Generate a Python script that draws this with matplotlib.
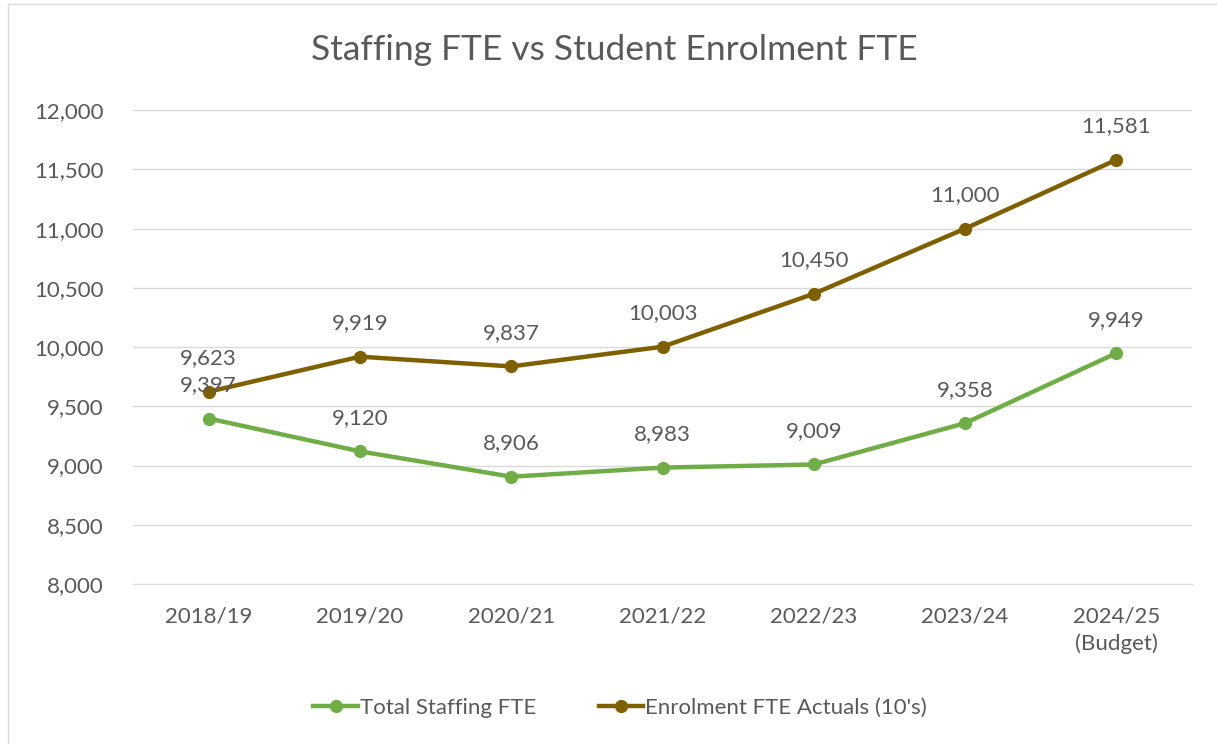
import matplotlib
matplotlib.use('Agg')
import matplotlib.pyplot as plt
from matplotlib.ticker import FuncFormatter
from matplotlib.patches import Rectangle

plt.rcParams['font.family'] = ['Lato', 'DejaVu Sans']

years = ['2018/19', '2019/20', '2020/21', '2021/22', '2022/23', '2023/24', '2024/25\n(Budget)']
staffing = [9397, 9120, 8906, 8983, 9009, 9358, 9949]
enrolment = [9623, 9919, 9837, 10003, 10450, 11000, 11581]

green = '#70AD47'
brown = '#7F6000'
txt = '#595959'

fig = plt.figure(figsize=(12.17, 7.44), dpi=100)
ax = fig.add_axes([0.1093, 0.215, 0.8702, 0.637])

x = list(range(len(years)))
ax.plot(x, staffing, color=green, lw=3.2, marker='o', ms=8.5, label='Total Staffing FTE', zorder=3)
ax.plot(x, enrolment, color=brown, lw=3.2, marker='o', ms=8.5, label="Enrolment FTE Actuals (10's)", zorder=3)

# data labels sit above each marker
for xi, v in zip(x, staffing):
    ax.annotate(f'{v:,}', (xi, v), xytext=(0, 24), textcoords='offset points',
                ha='center', va='center', fontsize=16, color=txt, zorder=4)
for xi, v in zip(x, enrolment):
    ax.annotate(f'{v:,}', (xi, v), xytext=(0, 24), textcoords='offset points',
                ha='center', va='center', fontsize=16, color=txt, zorder=4)

ax.set_xlim(-0.5, len(years) - 0.5)
ax.set_ylim(8000, 12000)
ax.set_yticks(range(8000, 12001, 500))
ax.yaxis.set_major_formatter(FuncFormatter(lambda v, p: f'{int(v):,}'))
ax.set_xticks(x)
ax.set_xticklabels(years, linespacing=1.45)
ax.tick_params(axis='both', length=0, labelsize=16, labelcolor=txt)
ax.tick_params(axis='y', pad=21)
ax.tick_params(axis='x', pad=16)
ax.grid(axis='y', color='#D9D9D9', lw=1)
ax.set_axisbelow(True)
for s in ['top', 'right', 'left']:
    ax.spines[s].set_visible(False)
ax.spines['bottom'].set_color('#D9D9D9')

fig.text(0.505, 0.933, 'Staffing FTE vs Student Enrolment FTE', ha='center', va='center',
         fontsize=25.5, color=txt)

ax.legend(loc='center', bbox_to_anchor=(0.46, -0.262), ncol=2, frameon=False,
          fontsize=16, labelcolor=txt, handlelength=2.0, handletextpad=0.1, columnspacing=2.8)

# chart area border
fig.patches.append(Rectangle((8 / 1217, -0.01), 1.1, 1 - 4 / 744 + 0.01, transform=fig.transFigure,
                             fill=False, edgecolor='#D9D9D9', lw=1))

fig.savefig('out.png', dpi=100)
